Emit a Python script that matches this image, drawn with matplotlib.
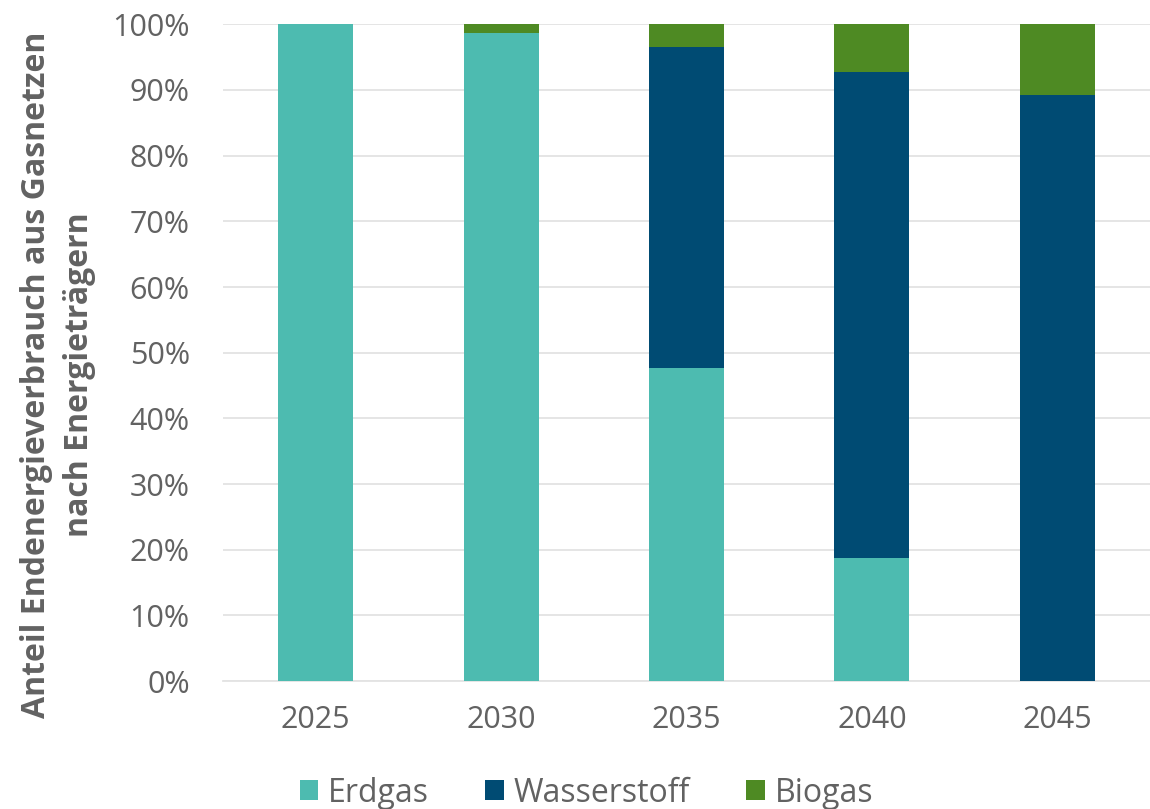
import numpy as np
import matplotlib.pyplot as plt

years = ['2025', '2030', '2035', '2040', '2045']
erdgas = [100.0, 98.7, 47.6, 18.7, 0.0]
wasserstoff = [0.0, 0.0, 49.0, 74.0, 89.3]
biogas = [0.0, 1.3, 3.4, 7.3, 10.7]

plt.rcParams['font.family'] = ['Open Sans', 'DejaVu Sans']
grey = '#626262'

fig = plt.figure(figsize=(11.5, 8.09), dpi=100)
ax = fig.add_axes([0.194, 0.158, 0.806, 0.812])

x = np.arange(len(years))
w = 0.405
ax.bar(x, erdgas, w, color='#4DBBB0', label='Erdgas', zorder=3)
ax.bar(x, wasserstoff, w, bottom=erdgas, color='#004B73', label='Wasserstoff', zorder=3)
bottom2 = np.array(erdgas) + np.array(wasserstoff)
ax.bar(x, biogas, w, bottom=bottom2, color='#4E8A23', label='Biogas', zorder=3)

ax.set_xlim(-0.5, 4.5)
ax.set_ylim(0, 100)
ax.set_yticks(np.arange(0, 101, 10))
ax.set_yticklabels([f'{v}%' for v in range(0, 101, 10)])
ax.set_xticks(x)
ax.set_xticklabels(years)
ax.yaxis.grid(True, color='#e3e3e3', linewidth=1.3, zorder=0)
ax.tick_params(axis='both', length=0, labelsize=22, labelcolor=grey)
ax.tick_params(axis='y', pad=24)
ax.tick_params(axis='x', pad=17)
for s in ax.spines.values():
    s.set_visible(False)
ax.spines['bottom'].set_visible(True)
ax.spines['bottom'].set_color('#e3e3e3')
ax.spines['bottom'].set_linewidth(1.3)

ax.set_ylabel('Anteil Endenergieverbrauch aus Gasnetzen\nnach Energieträgern',
              fontsize=23, fontweight='bold', color=grey, linespacing=1.4)
ax.yaxis.set_label_coords(-0.137, 0.467)

fig.legend(loc='center', bbox_to_anchor=(0.51, 16 / 809), ncol=3,
           frameon=False, fontsize=23, handlelength=0.58, handleheight=0.58,
           handletextpad=0.32, columnspacing=1.75, labelcolor=grey,
           borderpad=0, borderaxespad=0)

fig.savefig('out.png', dpi=100)
